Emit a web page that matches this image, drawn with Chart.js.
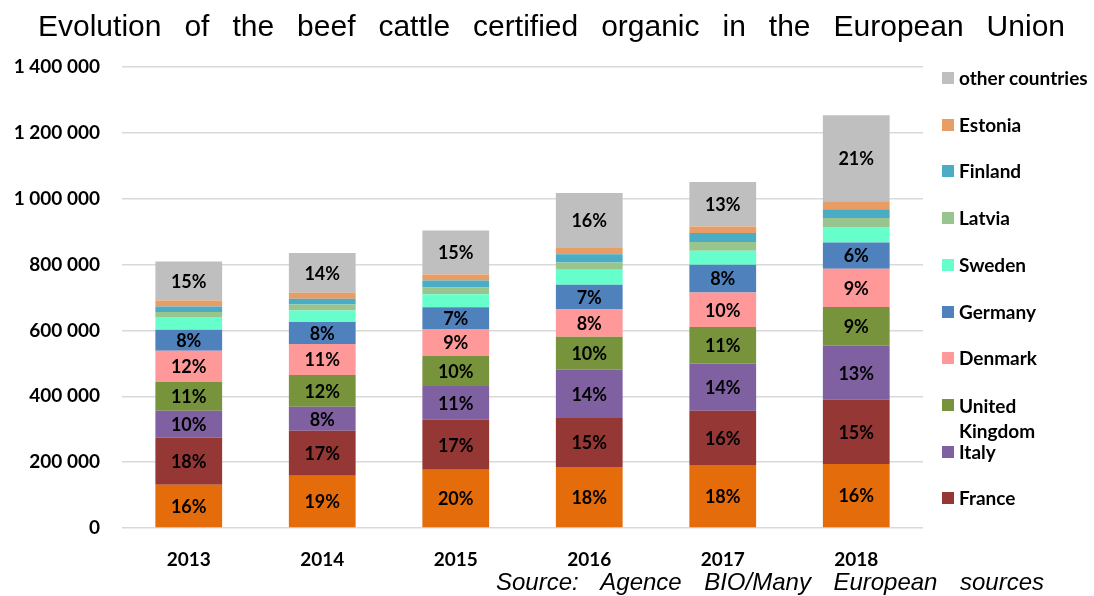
<!DOCTYPE html>
<html>
<head>
<meta charset="utf-8">
<script src="https://cdn.jsdelivr.net/npm/chart.js@4/dist/chart.umd.min.js"></script>
<style>
  html, body { margin: 0; padding: 0; background: #fff; }
  #wrap { position: relative; width: 1094px; height: 596px; overflow: hidden; }
  #chart { position: absolute; left: 0; top: 0; }
  #title {
    position: absolute; left: 38px; top: 9px; width: 1027px;
    font: 30px 'Liberation Sans', Arial, sans-serif; line-height: 34px; color: #000;
    text-align: justify; text-align-last: justify;
  }
  #source {
    position: absolute; left: 496px; top: 568px; width: 548px;
    font: italic 24px 'Liberation Sans', Arial, sans-serif; color: #000;
    text-align: justify; text-align-last: justify;
  }
  #legend { position: absolute; left: 942px; top: 0; }
  .item { position: absolute; left: 0; white-space: nowrap;
    font: bold 19px Lato, sans-serif; color: #000; line-height: 20px; }
  .box { position: absolute; left: 0; width: 12px; height: 12px; }
  .txt { position: absolute; left: 17px; top: 0; }
</style>
</head>
<body>
<div id="wrap">
  <canvas id="chart" width="1094" height="596"></canvas>
  <div id="title">Evolution of the beef cattle certified organic in the European Union</div>
  <div id="legend"></div>
  <div id="source">Source: Agence BIO/Many European sources</div>
</div>
<script>
// ---- Data ----------------------------------------------------
const years = ['2013', '2014', '2015', '2016', '2017', '2018'];
const yTickLabels = ['0', '200 000', '400 000', '600 000', '800 000', '1 000 000', '1 200 000', '1 400 000'];

// head counts, bottom of the stack first
const orangeSeries = [131500, 158800, 177000, 185200, 191300, 194400]; // not named in the legend
const france   = [143600, 136700, 151900, 148500, 164900, 195200];
const italy    = [81100, 72900, 102300, 146700, 143600, 164000];
const uk       = [87200, 96500, 92000, 100200, 110600, 117500];
const denmark  = [95000, 94000, 81100, 83200, 105000, 116300];
const germany  = [63800, 66800, 66000, 74700, 84200, 79500];
const sweden   = [38600, 35200, 39500, 45600, 42500, 47400];
const latvia   = [15100, 18200, 20400, 22400, 26400, 27300];
const finland  = [17000, 17300, 21200, 25200, 27300, 26400];
const estonia  = [18300, 18200, 18200, 18300, 20100, 24300];
const others   = [118400, 120600, 133600, 167000, 134800, 261200];

// percentage labels printed on the segments
const orangePct  = ['16%', '19%', '20%', '18%', '18%', '16%'];
const francePct  = ['18%', '17%', '17%', '15%', '16%', '15%'];
const italyPct   = ['10%', '8%', '11%', '14%', '14%', '13%'];
const ukPct      = ['11%', '12%', '10%', '10%', '11%', '9%'];
const denmarkPct = ['12%', '11%', '9%', '8%', '10%', '9%'];
const germanyPct = ['8%', '8%', '7%', '7%', '8%', '6%'];
const othersPct  = ['15%', '14%', '15%', '16%', '13%', '21%'];

const FONT = 'Lato, sans-serif';

function series(label, data, color, pct, inLegend) {
  return {
    label: label,
    data: data,
    backgroundColor: color,
    pctLabels: pct || [],
    inLegend: inLegend !== false
  };
}

const datasets = [
  series('(not in legend)', orangeSeries, '#E46C0A', orangePct, false),
  series('France', france, '#953735', francePct),
  series('Italy', italy, '#7F60A0', italyPct),
  series('United\nKingdom', uk, '#77933C', ukPct),
  series('Denmark', denmark, '#FF9999', denmarkPct),
  series('Germany', germany, '#4F81BD', germanyPct),
  series('Sweden', sweden, '#66FFCC'),
  series('Latvia', latvia, '#98C48E'),
  series('Finland', finland, '#4BACC6'),
  series('Estonia', estonia, '#E79D64'),
  series('other countries', others, '#BFBFBF', othersPct)
];

// ---- Percent labels centred in each segment -------------------
const segmentLabels = {
  id: 'segmentLabels',
  afterDatasetsDraw(chart) {
    const ctx = chart.ctx;
    ctx.save();
    ctx.font = 'bold 18px ' + FONT;
    ctx.fillStyle = '#000';
    ctx.textAlign = 'center';
    ctx.textBaseline = 'middle';
    chart.data.datasets.forEach((ds, i) => {
      chart.getDatasetMeta(i).data.forEach((bar, j) => {
        const t = ds.pctLabels[j];
        if (t) ctx.fillText(t, bar.x, (bar.y + bar.base) / 2 + 1);
      });
    });
    ctx.restore();
  }
};

const chart = new Chart(document.getElementById('chart'), {
  type: 'bar',
  data: { labels: years, datasets: datasets },
  options: {
    responsive: false,
    animation: false,
    layout: { padding: { top: 67, right: 171, bottom: 18, left: 0 } },
    datasets: { bar: { barPercentage: 0.5, categoryPercentage: 1.0, borderWidth: 0 } },
    plugins: { legend: { display: false }, tooltip: { enabled: false } },
    scales: {
      x: {
        stacked: true,
        grid: { display: false },
        border: { display: false },
        ticks: { color: '#000', font: { family: FONT, size: 19, weight: 'bold' }, padding: 12 },
        afterFit: s => { s.height = 50; }
      },
      y: {
        stacked: true,
        min: 0,
        max: 1400000,
        grid: { color: '#D9D9D9', lineWidth: 1.5, drawTicks: false },
        border: { display: false },
        ticks: {
          stepSize: 200000,
          color: '#000',
          padding: 22,
          font: { family: FONT, size: 19, weight: 'bold' },
          callback: (v, i) => yTickLabels[i]
        },
        afterFit: s => { s.width = 122; }
      }
    }
  },
  plugins: [segmentLabels]
});

// ---- Legend on the right, top item = top of the stack ---------
const legendEl = document.getElementById('legend');
const LEGEND_TOP = 78, LEGEND_STEP = 46.7;
chart.data.datasets.filter(d => d.inLegend).reverse().forEach((d, k) => {
  const cy = LEGEND_TOP + k * LEGEND_STEP;
  const lines = d.label.split('\n');
  const item = document.createElement('div');
  item.className = 'item';
  item.style.top = (cy - 10) + 'px';
  const box = document.createElement('div');
  box.className = 'box';
  box.style.top = '4px';
  box.style.background = d.backgroundColor;
  const txt = document.createElement('div');
  txt.className = 'txt';
  txt.style.lineHeight = lines.length > 1 ? '25px' : '20px';
  if (lines.length > 1) txt.style.top = '-2px';
  txt.innerHTML = lines.join('<br>');
  item.appendChild(box);
  item.appendChild(txt);
  legendEl.appendChild(item);
});
</script>
</body>
</html>
